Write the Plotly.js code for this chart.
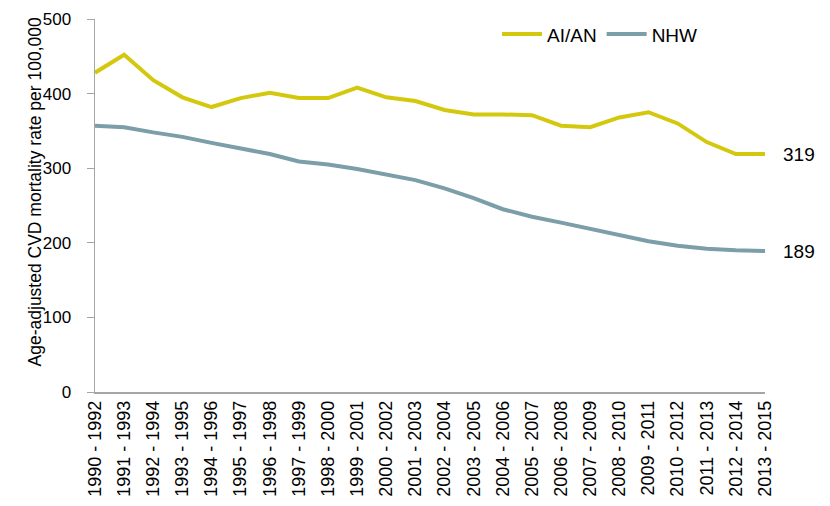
<!DOCTYPE html>
<html>
<head>
<meta charset="utf-8">
<script src="https://cdn.plot.ly/plotly-3.0.1.min.js"></script>
<style>html,body{margin:0;padding:0;background:#fff}#chart{width:830px;height:506px}</style>
</head>
<body>
<div id="chart"></div>
<script>
const periods = ["1990 - 1992","1991 - 1993","1992 - 1994","1993 - 1995","1994 - 1996","1995 - 1997","1996 - 1998","1997 - 1999","1998 - 2000","1999 - 2001","2000 - 2002","2001 - 2003","2002 - 2004","2003 - 2005","2004 - 2006","2005 - 2007","2006 - 2008","2007 - 2009","2008 - 2010","2009 - 2011","2010 - 2012","2011 - 2013","2012 - 2014","2013 - 2015"];
const aian = [428,452,418,395,382,394,401,394,394,408,395,390,378,372,372,371,357,355,368,375,360,335,319,319];
const nhw  = [357,355,348,342,334,327,319,309,305,299,291,284,273,260,245,235,227,219,210,202,196,192,190,189];
const seriesNames = ["AI/AN","NHW"];
const yTitle = "Age-adjusted CVD mortality rate per 100,000";
const colors = ["#D4C80E","#7B9EA8"];

const traces = [
  {x: periods, y: aian, name: seriesNames[0], type: "scatter", mode: "lines", line: {color: colors[0], width: 4}},
  {x: periods, y: nhw, name: seriesNames[1], type: "scatter", mode: "lines", line: {color: colors[1], width: 4}}
];
const last = periods.length - 1;
const layout = {
  width: 830, height: 506,
  margin: {l: 95, r: 65, t: 19, b: 114},
  paper_bgcolor: "#fff", plot_bgcolor: "#fff",
  font: {family: "Liberation Sans, Arial, sans-serif", size: 17, color: "#000"},
  showlegend: true,
  legend: {orientation: "h", x: 0.6, xanchor: "left", y: 1.01, yanchor: "top", font: {size: 19}, itemwidth: 40, bgcolor: "rgba(0,0,0,0)"},
  xaxis: {type: "category", range: [0, last], showgrid: false, zeroline: false, showline: true, linecolor: "#A6A6A6", linewidth: 1.5, ticks: "", tickangle: -90, tickfont: {size: 18}, fixedrange: true},
  yaxis: {range: [0, 500], dtick: 100, showgrid: false, zeroline: false, showline: true, linecolor: "#A6A6A6", linewidth: 1.5, ticks: "outside", ticklen: 7, tickcolor: "#A6A6A6", tickfont: {size: 17}, ticklabelstandoff: 12},
  annotations: [
    {x: -0.089, y: 0.536, xref: "paper", yref: "paper", text: yTitle, textangle: -90, showarrow: false, xanchor: "center", yanchor: "middle", font: {size: 17.5}},
    {x: periods[last], y: aian[last], xref: "x", yref: "y", text: String(aian[last]), showarrow: false, xanchor: "left", xshift: 16, font: {size: 19}},
    {x: periods[last], y: nhw[last], xref: "x", yref: "y", text: String(nhw[last]), showarrow: false, xanchor: "left", xshift: 16, font: {size: 19}}
  ]
};
Plotly.newPlot("chart", traces, layout, {displayModeBar: false, staticPlot: true});
</script>
</body>
</html>
